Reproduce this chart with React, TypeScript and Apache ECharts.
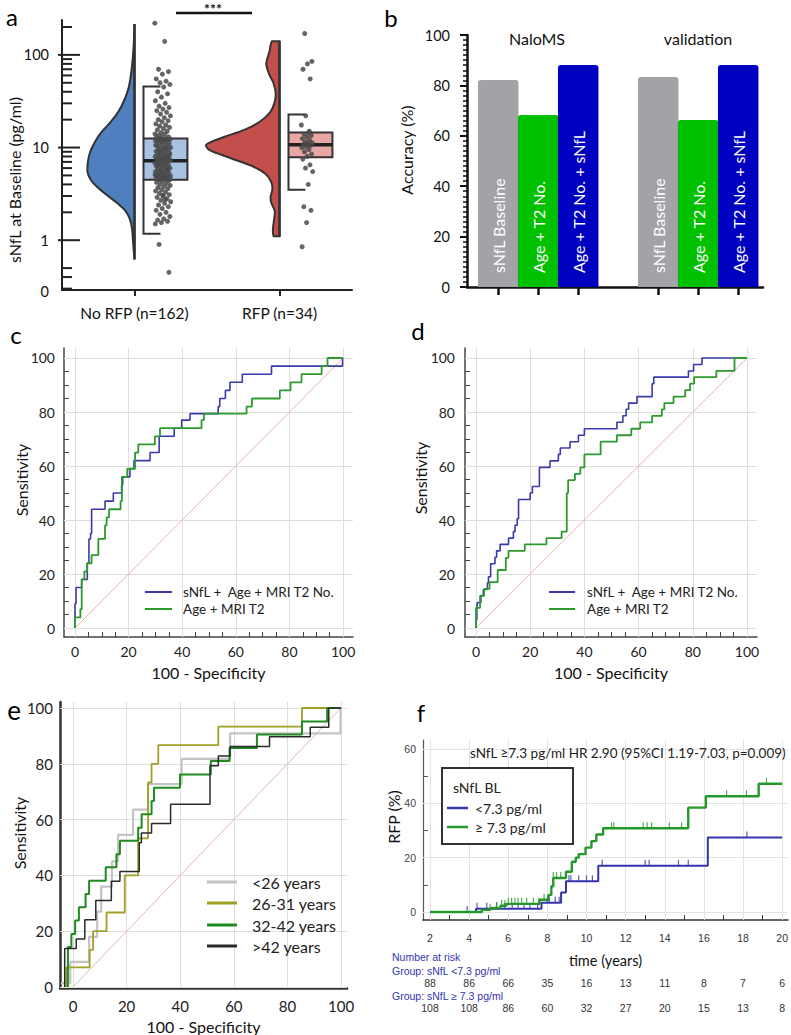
import React, { useEffect, useRef } from 'react';
import * as echarts from 'echarts';

const FONT = 'Lato, "Open Sans", sans-serif';
const ARIAL = '"Liberation Sans", Arial, sans-serif';
const NARROW = '"Liberation Sans Narrow", "Liberation Sans", Arial, sans-serif';

// ---------------- Panel a data ----------------
const groupsA = ['No RFP (n=162)', 'RFP (n=34)'];
const sNfLNoRfp = [
  220, 140, 70, 66, 62, 55, 52, 50, 48, 45, 40, 38, 35, 32, 30, 28, 27, 26, 25, 24,
  23, 22, 21, 20, 19.5, 19, 18, 17.5, 17, 16.5, 16, 15.5, 15, 14.5, 14, 14, 13.5, 13, 13, 12.8,
  12.5, 12.5, 12.3, 12.2, 12.1, 12.0,
  12, 11.8, 11.5, 11.2, 11, 10.8, 10.5, 10.3, 10, 10, 9.8, 9.6, 9.5, 9.3, 9.1, 9, 8.8, 8.7, 8.5, 8.4,
  8.2, 8.1, 8, 7.9, 7.8, 7.7, 7.6, 7.5, 7.45, 7.4, 7.35, 7.3, 7.25, 7.2, 11.6, 10.6, 9.9, 8.9, 8.3, 7.7,
  7.1, 7.0, 6.9, 6.8, 6.7, 6.6, 6.5, 6.4, 6.3, 6.2, 6.1, 6.0, 5.9, 5.8, 5.7, 5.6, 5.5, 5.45, 5.4, 5.3,
  5.2, 5.1, 5.0, 4.95, 4.9, 4.85, 4.8, 4.75, 4.7, 4.65, 4.6, 4.55, 4.5, 6.95, 6.45, 5.95, 5.35, 5.05, 4.6, 4.52,
  4.4, 4.3, 4.2, 4.1, 4.0, 3.9, 3.8, 3.7, 3.6, 3.5, 3.4, 3.3, 3.2, 3.1, 3.0, 2.9, 2.8, 2.7, 2.6, 2.5,
  2.4, 2.3, 2.2, 2.1, 2.0, 1.9, 1.8, 1.7, 1.65, 1.6, 1.55, 1.5, 2.75, 0.9, 0.45, 3.05,
];
const sNfLRfp = [
  170, 85, 80, 70, 55, 22, 17.5, 14.5, 14, 13.5, 13, 12.5, 12, 11.5, 11.2, 11, 10.8, 10.5, 10.2, 10,
  9.5, 9, 8.5, 8, 7.5, 6.5, 6, 5.5, 4, 2.3, 2.1, 1.55, 0.85, 15,
];
// [lower whisker, Q1, median, Q3, upper whisker]
const boxStatsA = [
  [1.17, 4.5, 7.2, 12.5, 45.7],
  [3.5, 7.85, 10.7, 14.5, 22.7],
];
// [value, relative density]
const violinNoRfp = [
  [215, 0], [120, 0.02], [70, 0.06], [45, 0.12], [33, 0.21], [25, 0.33], [19, 0.5], [14.5, 0.71],
  [11.5, 0.84], [9, 0.94], [7, 0.99], [5.5, 1], [4.5, 0.93], [3.7, 0.78], [3.0, 0.56], [2.5, 0.36],
  [2.1, 0.2], [1.7, 0.1], [1.3, 0.05], [0.95, 0.03], [0.62, 0],
];
const violinRfp = [
  [140, 0.16], [110, 0.21], [80, 0.28], [62, 0.22], [50, 0.13], [38, 0.08], [30, 0.11], [24, 0.2],
  [19, 0.42], [15.5, 0.75], [13, 1.18], [11.5, 1.45], [10.6, 1.56], [9.5, 1.5], [8.4, 1.25], [7.2, 0.88],
  [6.2, 0.55], [5.2, 0.3], [4.3, 0.18], [3.6, 0.15], [2.9, 0.19], [2.5, 0.17], [2.05, 0.1], [1.6, 0.12],
  [1.3, 0.14], [1.1, 0.12],
];
const yMajorTicksA = [1, 10, 100];
const yMinorTicksA = [0.3, 0.4, 0.5, 2, 3, 4, 5, 6, 7, 8, 9, 20, 30, 40, 50, 60, 70, 80, 90, 200];
const yLabelValuesA = [0.3, 1, 10, 100];
const yLabelTextsA = ['0', '1', '10', '100'];

// ---------------- Panel b data ----------------
const groupsB = ['NaloMS', 'validation'];
const modelsB = ['sNfL Baseline', 'Age + T2 No.', 'Age + T2 No. + sNfL'];
const accuracyNaloMS = [82.1, 68.3, 88.1];
const accuracyValidation = [83.3, 66.3, 88.1];
const modelColorsB = ['#a2a2a7', '#00c000', '#0000c0'];

// ---------------- ROC data (c, d) ----------------
const rocTickValues = [0, 5, 10, 15, 20, 25, 30, 35, 40, 45, 50, 55, 60, 65, 70, 75, 80, 85, 90, 95, 100];
const rocLabelValues = [0, 20, 40, 60, 80, 100];
const rocNames = ['sNfL +  Age + MRI T2 No.', 'Age + MRI T2'];
const diagonal = [[0, 0], [100, 100]];
const rocCsNfL = [[0,0],[0,9],[0.4,9],[0.4,15],[2.5,15],[2.5,18],[4.6,18],[4.6,24],[5.2,24],[5.2,33],[5.8,33],[5.8,35],[6.2,35],[6.2,44],[11.2,44],[11.2,47],[14.3,47],[14.3,50],[17.4,50],[17.4,53],[17.8,53],[17.8,56],[20.5,56],[20.5,59],[22,59],[22,62],[28,62],[28,65],[31.4,65],[31.4,71],[37,71],[37,74],[39.8,74],[39.8,77],[42.9,77],[42.9,79.4],[53.4,79.4],[53.4,82],[54,82],[54,85],[56.1,85],[56.1,88],[57.8,88],[57.8,91],[62.4,91],[62.4,94],[73.3,94],[73.3,97],[99.8,97],[99.8,100],[100,100]];
const rocCAgeT2 = [[0,0],[0,4],[2,4],[2,7],[2.5,7],[2.5,18],[3.5,18],[3.5,21],[4.5,21],[4.5,24],[6.2,24],[6.2,27],[8.7,27],[8.7,33],[11.2,33],[11.2,38],[11.8,38],[11.8,41],[12.7,41],[12.7,44],[17,44],[17,47],[17.5,47],[17.5,56],[19.5,56],[19.5,59],[22.4,59],[22.4,65],[23.6,65],[23.6,68],[29.8,68],[29.8,71],[31.7,71],[31.7,74],[47.2,74],[47.2,77],[48.1,77],[48.1,79.4],[64,79.4],[64,82],[66,82],[66,85],[76.4,85],[76.4,88],[80.4,88],[80.4,91],[84.5,91],[84.5,94],[92,94],[92,97],[94.2,97],[94.2,100],[100,100]];
const rocDsNfL = [[0,0],[0,3],[0.3,3],[0.3,7.1],[0.5,7.1],[0.5,9.5],[1.8,9.5],[1.8,11.9],[2.7,11.9],[2.7,14.3],[4.2,14.3],[4.2,16.7],[4.6,16.7],[4.6,19],[5.4,19],[5.4,23.8],[7,23.8],[7,26.2],[7.6,26.2],[7.6,28.6],[8.9,28.6],[8.9,31],[12,31],[12,33.3],[13.8,33.3],[13.8,35.7],[14.4,35.7],[14.4,38.1],[15.2,38.1],[15.2,40.5],[15.7,40.5],[15.7,47.6],[20,47.6],[20,50],[20.8,50],[20.8,52.4],[23.4,52.4],[23.4,59.5],[27.3,59.5],[27.3,61.9],[30.4,61.9],[30.4,64.3],[31.1,64.3],[31.1,66.7],[34.7,66.7],[34.7,69],[37.8,69],[37.8,71.4],[40,71.4],[40,73.8],[52,73.8],[52,76.2],[54.2,76.2],[54.2,78.6],[55.4,78.6],[55.4,81],[56.3,81],[56.3,83.3],[59.4,83.3],[59.4,85.7],[65,85.7],[65,90.5],[65.6,90.5],[65.6,92.9],[78.4,92.9],[78.4,95.2],[80.3,95.2],[80.3,97.6],[83.4,97.6],[83.4,100],[100,100]];
const rocDAgeT2 = [[0,0],[0,7.5],[1.5,7.5],[1.5,12],[3,12],[3,14.5],[5,14.5],[5,17],[8,17],[8,21.5],[11,21.5],[11,26],[12,26],[12,28.6],[18,28.6],[18,31],[26,31],[26,33.3],[31.6,33.3],[31.6,35.7],[33.5,35.7],[33.5,50],[34,50],[34,54.8],[36.5,54.8],[36.5,57.1],[38.5,57.1],[38.5,59.5],[40,59.5],[40,64.3],[46,64.3],[46,69],[52,69],[52,71.4],[57.3,71.4],[57.3,73.8],[60.6,73.8],[60.6,76.2],[65,76.2],[65,78.6],[68.6,78.6],[68.6,81],[69.5,81],[69.5,83.3],[72.9,83.3],[72.9,85.7],[77.2,85.7],[77.2,88.1],[79,88.1],[79,90.5],[80.5,90.5],[80.5,92.9],[88.7,92.9],[88.7,95.2],[95.4,95.2],[95.4,100],[100,100]];

// ---------------- ROC by age (e) ----------------
const ageGroups = ['<26 years', '26-31 years', '32-42 years', '>42 years'];
const ageColors = ['#c4c4c4', '#a0a026', '#1f8a1f', '#2b2b2b'];
const rocAgeLt26 = [[-4.5,1.4],[-1,1.4],[-1,9],[6,9],[6,18],[9,18],[9,27],[10.5,27],[10.5,36],[14.5,36],[14.5,45],[16.8,45],[16.8,54.5],[22.4,54.5],[22.4,63.6],[28,63.6],[28,72.7],[40.5,72.7],[40.5,81.8],[58.6,81.8],[58.6,90.9],[99.8,90.9],[99.8,100],[100,100]];
const rocAge26to31 = [[-2.5,0],[-2.5,7],[6.2,7],[6.2,13.3],[7.5,13.3],[7.5,20],[12.5,20],[12.5,26.7],[19.3,26.7],[19.3,40],[24.3,40],[24.3,53.3],[28,53.3],[28,73.3],[29.3,73.3],[29.3,80],[31.8,80],[31.8,86.7],[54.2,86.7],[54.2,93.3],[85.4,93.3],[85.4,100],[100,100]];
const rocAge32to42 = [[-1.9,0],[-1.9,14.3],[-0.6,14.3],[-0.6,19],[0.8,19],[0.8,23.8],[2.2,23.8],[2.2,28.6],[4.7,28.6],[4.7,33.3],[6,33.3],[6,38.1],[12.2,38.1],[12.2,42.9],[16.2,42.9],[16.2,47.6],[17.5,47.6],[17.5,52.4],[24.3,52.4],[24.3,57.1],[25.6,57.1],[25.6,61.9],[29.3,61.9],[29.3,66.7],[30.2,66.7],[30.2,71.4],[39.9,71.4],[39.9,76.2],[51.4,76.2],[51.4,81],[58.4,81],[58.4,85.7],[68.6,85.7],[68.6,90.5],[85.4,90.5],[85.4,95.2],[94.8,95.2],[94.8,100],[100,100]];
const rocAgeGt42 = [[-3.1,0],[-3.1,13.8],[1.2,13.8],[1.2,17.2],[4.4,17.2],[4.4,24.1],[8.5,24.1],[8.5,31],[14.3,31],[14.3,37.9],[17.5,37.9],[17.5,41.4],[24.7,41.4],[24.7,51.7],[25.5,51.7],[25.5,55.2],[29.3,55.2],[29.3,58.6],[36.4,58.6],[36.4,65.5],[51.1,65.5],[51.1,79.3],[54.2,79.3],[54.2,82.8],[58.6,82.8],[58.6,86.2],[73.3,86.2],[73.3,89.7],[88.5,89.7],[88.5,93.1],[95.4,93.1],[95.4,100],[100,100]];

// ---------------- Kaplan-Meier (f) ----------------
const kmNames = ['<7.3 pg/ml', '\u2265 7.3 pg/ml'];
const kmLow = [[2,0],[4.35,0],[4.35,1.2],[7.7,1.2],[7.7,3.4],[8.7,3.4],[8.7,7.2],[8.95,7.2],[8.95,11.3],[10.6,11.3],[10.6,17],[16.2,17],[16.2,27.4],[20,27.4]];
const kmHigh = [[2,0],[4.65,0],[4.65,0.8],[5.1,0.8],[5.1,1.5],[5.6,1.5],[5.6,2.3],[5.9,2.3],[5.9,3.0],[7.6,3.0],[7.6,4.5],[8.05,4.5],[8.05,6.3],[8.2,6.3],[8.2,9.5],[8.3,9.5],[8.3,12.5],[8.95,12.5],[8.95,14.8],[9.25,14.8],[9.25,18.5],[9.45,18.5],[9.45,20.0],[9.6,20.0],[9.6,21.3],[9.95,21.3],[9.95,23.7],[10.25,23.7],[10.25,26.1],[10.5,26.1],[10.5,28.5],[10.85,28.5],[10.85,30.8],[15.2,30.8],[15.2,38.4],[16.1,38.4],[16.1,42.6],[18.8,42.6],[18.8,47.2],[20,47.2]];
const censorLow = [3.9, 4.4, 4.9, 5.4, 5.8, 6.2, 6.5, 6.8, 7.1, 7.5, 8.0, 8.1, 8.4, 8.6, 9.1, 9.2, 9.6, 10.0, 10.3, 10.8, 13.0, 13.2, 14.7, 15.2, 18.2];
const censorHigh = [5.07, 5.4, 5.66, 5.83, 6.0, 6.17, 6.34, 6.5, 6.68, 6.94, 7.28, 7.57, 7.83, 8.3, 8.47, 8.68, 11.28, 11.4, 12.9, 13.1, 13.33, 14.23, 14.86, 17.16, 18.18, 19.2];
const kmTickValues = [2, 3, 4, 5, 6, 7, 8, 9, 10, 11, 12, 13, 14, 15, 16, 17, 18, 19, 20];
const kmLabelValues = [2, 4, 6, 8, 10, 12, 14, 16, 18, 20];
const kmYTickValues = [0, 10, 20, 30, 40, 50, 60];
const kmYLabelValues = [0, 20, 40, 60];
const riskTimes = [2, 4, 6, 8, 10, 12, 14, 16, 18, 20];
const riskLow = [88, 86, 66, 35, 16, 13, 11, 8, 7, 6];
const riskHigh = [108, 108, 86, 60, 32, 27, 20, 15, 13, 8];
const hrText = 'sNfL \u22657.3 pg/ml HR 2.90 (95%CI 1.19-7.03, p=0.009)';

const ROC_BLUE = '#3a3aac';
const ROC_GREEN = '#2e9a2e';
const KM_BLUE = '#3535ad';
const KM_GREEN = '#23992a';

function stepAt(curve: number[][], t: number) {
  let y = curve[0][1];
  for (const p of curve) if (p[0] <= t) y = p[1];
  return y;
}

function gridLines(xs: number[], ys: number[], color: string) {
  return {
    z: 1,
    silent: true,
    symbol: ['none', 'none'],
    label: { show: false },
    lineStyle: { color, width: 1, type: 'solid' },
    emphasis: { disabled: true },
    data: xs.map((v) => ({ xAxis: v })).concat(ys.map((v) => ({ yAxis: v })) as any),
  };
}

function valueAxis(gridIndex: number, min: number, max: number, o: any) {
  return {
    type: 'value', gridIndex, min, max,
    axisLine: { show: o.line !== false, onZero: false, lineStyle: { color: o.lineColor || '#444', width: o.lineWidth || 1.5 } },
    axisTick: o.ticks
      ? { show: true, inside: true, length: o.tickLen || 5, customValues: o.ticks, lineStyle: { color: o.lineColor || '#444', width: 1 } }
      : { show: false },
    axisLabel: {
      show: true, customValues: o.labels, margin: o.margin, fontSize: o.fontSize || 14,
      fontFamily: o.fontFamily || FONT, color: o.labelColor || '#222',
    },
    splitLine: { show: false },
    name: o.name, nameLocation: 'middle', nameGap: o.nameGap, nameMoveOverlap: false,
    nameTextStyle: { fontSize: o.nameSize || 16, fontFamily: o.nameFont || FONT, color: '#111' },
  };
}

function legendEls(x0: number, x1: number, xt: number, ys: number[], names: string[], colors: string[], widths: number[], size: number) {
  const els: any[] = [];
  names.forEach((n, i) => {
    els.push({ type: 'line', z: 100, shape: { x1: x0, y1: ys[i], x2: x1, y2: ys[i] }, style: { stroke: colors[i], lineWidth: widths[i] } });
    els.push({ type: 'text', z: 100, x: xt, y: ys[i], style: { text: n, font: `${size}px ${FONT}`, fill: '#222', textAlign: 'left', textVerticalAlign: 'middle', align: 'left', verticalAlign: 'middle' } });
  });
  return els;
}

function textEl(text: string, x: number, y: number, font: string, fill = '#111', align = 'center', rotation = 0) {
  return { type: 'text', z: 100, x, y, rotation, style: { text, font, fill, textAlign: align, textVerticalAlign: 'middle', align, verticalAlign: 'middle' } };
}

function buildOption() {
  const violins = [violinNoRfp, violinRfp];
  const violinColors = ['#4f7fbf', '#c44e4c'];
  const boxColors = ['#a9c2e2', '#e8a6a4'];
  const VIOLIN_W = 0.325; // band fraction for density 1
  const jitter = [[0.14, 0.11], [0.15, 0.08]];

  const pointsData: number[][] = [];
  sNfLNoRfp.forEach((v, i) => pointsData.push([0, v, (i * 0.6180339887) % 1]));
  sNfLRfp.forEach((v, i) => pointsData.push([1, v, (i * 0.6180339887 + 0.3) % 1]));

  const barData: any[] = [];
  [accuracyNaloMS, accuracyValidation].forEach((vals, g) => {
    vals.forEach((v, m) => {
      barData.push({ name: modelsB[m], value: [1 + g * 4 + m, v], itemStyle: { color: modelColorsB[m] } });
    });
  });
  const barPositions = barData.map((d) => d.value[0]);

  const rocLine = (xi: number, data: number[][], color: string, width: number, z = 4) => ({
    type: 'line', xAxisIndex: xi, yAxisIndex: xi, data, symbol: 'none', showSymbol: false, z,
    lineStyle: { color, width }, silent: true,
  });
  const diagSeries = (xi: number) => ({
    type: 'line', xAxisIndex: xi, yAxisIndex: xi, data: diagonal, symbol: 'none', z: 2, silent: true,
    lineStyle: { color: '#e6b3b3', width: 1 },
    markLine: gridLines(rocLabelValues, rocLabelValues, '#dedede'),
  });

  const rocAxisOpts = {
    ticks: rocTickValues, labels: rocLabelValues, lineColor: '#444', lineWidth: 1.5, fontSize: 14,
  };

  const option: any = {
    animation: false,
    backgroundColor: '#ffffff',
    textStyle: { fontFamily: FONT },
    grid: [
      { left: 62, top: 20, width: 290, height: 270, containLabel: false, outerBoundsMode: 'none' },
      { left: 467, top: 35, width: 296, height: 252, containLabel: false, outerBoundsMode: 'none' },
      { left: 64, top: 348, width: 289, height: 289, containLabel: false, outerBoundsMode: 'none' },
      { left: 465, top: 348, width: 292, height: 289, containLabel: false, outerBoundsMode: 'none' },
      { left: 60, top: 702, width: 287, height: 286, containLabel: false, outerBoundsMode: 'none' },
      { left: 423, top: 740, width: 365, height: 180, containLabel: false, outerBoundsMode: 'none' },
    ],
    xAxis: [
      {
        type: 'category', gridIndex: 0, data: groupsA,
        axisLine: { lineStyle: { color: '#222', width: 2 } },
        axisTick: { show: true, alignWithLabel: true, length: 6, lineStyle: { color: '#222', width: 2 } },
        axisLabel: { fontSize: 15.5, fontFamily: FONT, color: '#111', margin: 15 },
        splitLine: { show: false },
      },
      {
        type: 'value', gridIndex: 1, min: 0.22, max: 7.62,
        axisLine: { lineStyle: { color: '#111', width: 2.5 } },
        axisTick: { show: true, customValues: barPositions, length: 8, lineStyle: { color: '#111', width: 2.5 } },
        axisLabel: { show: false },
        splitLine: { show: false },
      },
      valueAxis(2, -4.1, 103.7, { ...rocAxisOpts, margin: 7, name: '100 - Specificity', nameGap: 27 }),
      valueAxis(3, -4.06, 103.7, { ...rocAxisOpts, margin: 7, name: '100 - Specificity', nameGap: 27 }),
      valueAxis(4, -4.85, 102.2, { labels: rocLabelValues, lineColor: '#333', lineWidth: 2.5, fontSize: 15, margin: 10, name: '100 - Specificity', nameGap: 30 }),
      valueAxis(5, 1.64, 20.3, {
        ticks: kmTickValues, tickLen: 5, labels: kmLabelValues, lineColor: '#333', lineWidth: 1.5,
        fontSize: 10.5, fontFamily: ARIAL, labelColor: '#333', margin: 12,
        name: 'time (years)', nameGap: 33, nameSize: 14.5,
      }),
    ],
    yAxis: [
      {
        type: 'log', logBase: 10, gridIndex: 0, min: 0.29, max: 238,
        axisLine: { show: true, lineStyle: { color: '#222', width: 2 } },
        axisTick: { show: false }, axisLabel: { show: false }, splitLine: { show: false }, minorSplitLine: { show: false },
      },
      {
        type: 'value', gridIndex: 1, min: 0, max: 100, interval: 20,
        axisLine: { show: true, lineStyle: { color: '#111', width: 2.5 } },
        axisTick: { show: true, length: 7, lineStyle: { color: '#111', width: 2 } },
        minorTick: { show: true, splitNumber: 10, length: 4, lineStyle: { color: '#111', width: 1.5 } },
        axisLabel: { fontSize: 14.5, fontFamily: FONT, color: '#111', margin: 17 },
        splitLine: { show: false },
      },
      valueAxis(2, -3.3, 103.7, { ...rocAxisOpts, margin: 9 }),
      valueAxis(3, -3.3, 103.7, { ...rocAxisOpts, margin: 10 }),
      valueAxis(4, -0.36, 102.15, { labels: rocLabelValues, lineColor: '#333', lineWidth: 2.5, fontSize: 15, margin: 7 }),
      valueAxis(5, -2.94, 63.3, {
        ticks: kmYTickValues, tickLen: 5, labels: kmYLabelValues, lineColor: '#555', lineWidth: 1.2,
        fontSize: 10.5, fontFamily: ARIAL, labelColor: '#444', margin: 7,
      }),
    ],
    series: [
      // ---- panel a: half violins
      {
        type: 'custom', xAxisIndex: 0, yAxisIndex: 0, clip: false, silent: true, z: 2,
        data: groupsA.map((_, g) => [g, boxStatsA[g][2]]),
        renderItem: (params: any, api: any) => {
          const g = params.dataIndex;
          const bw = api.size([1, 0])[0];
          const cx = api.coord([g, 1])[0];
          const pts = violins[g].map(([v, d]) => [cx - d * VIOLIN_W * bw, api.coord([g, v])[1]]);
          const top = pts[0][1];
          const bottom = pts[pts.length - 1][1];
          const poly = [[cx, top], ...pts, [cx, bottom]];
          return {
            type: 'group',
            children: [
              {
                type: 'polygon',
                shape: { points: poly, smooth: 0.3, smoothConstraint: [[1e9, 1e9], [-1e9, -1e9]] },
                style: { fill: violinColors[g], stroke: '#333', lineWidth: 2 },
              },
              { type: 'line', shape: { x1: cx, y1: top, x2: cx, y2: bottom }, style: { stroke: '#333', lineWidth: 2.5 } },
            ],
          };
        },
      },
      // ---- panel a: boxes
      {
        type: 'custom', xAxisIndex: 0, yAxisIndex: 0, clip: false, silent: true, z: 3,
        data: groupsA.map((_, g) => [g, boxStatsA[g][2]]),
        renderItem: (params: any, api: any) => {
          const g = params.dataIndex;
          const [lo, q1, med, q3, hi] = boxStatsA[g];
          const bw = api.size([1, 0])[0];
          const cx = api.coord([g, med])[0];
          const l = cx + 0.062 * bw;
          const r = cx + 0.365 * bw;
          const cap = 0.117 * bw;
          const yq1 = api.coord([g, q1])[1];
          const yq3 = api.coord([g, q3])[1];
          const ym = api.coord([g, med])[1];
          const ylo = api.coord([g, lo])[1];
          const yhi = api.coord([g, hi])[1];
          const st = { stroke: '#333', lineWidth: 2, fill: null };
          return {
            type: 'group',
            children: [
              { type: 'polyline', shape: { points: [[l + cap, yhi], [l, yhi], [l, yq3]] }, style: st },
              { type: 'polyline', shape: { points: [[l + cap, ylo], [l, ylo], [l, yq1]] }, style: st },
              { type: 'rect', shape: { x: l, y: yq3, width: r - l, height: yq1 - yq3 }, style: { fill: boxColors[g], stroke: '#333', lineWidth: 2 } },
              { type: 'line', shape: { x1: l, y1: ym, x2: r, y2: ym }, style: { stroke: '#222', lineWidth: 3.5 } },
            ],
          };
        },
      },
      // ---- panel a: jittered points
      {
        type: 'custom', xAxisIndex: 0, yAxisIndex: 0, clip: false, silent: true, z: 4,
        data: pointsData,
        renderItem: (params: any, api: any) => {
          const g = api.value(0);
          const v = api.value(1);
          const f = api.value(2);
          const bw = api.size([1, 0])[0];
          const p = api.coord([g, v]);
          return {
            type: 'circle',
            shape: { cx: p[0] + (jitter[g][0] + jitter[g][1] * f) * bw, cy: p[1], r: 2.5 },
            style: { fill: '#4a4a4a', opacity: 0.85 },
          };
        },
      },
      // ---- panel a: y ticks
      {
        type: 'custom', xAxisIndex: 0, yAxisIndex: 0, clip: false, silent: true, z: 5,
        data: yMajorTicksA.map((v) => [0, v, 1]).concat(yMinorTicksA.map((v) => [0, v, 0])),
        renderItem: (params: any, api: any) => {
          const v = api.value(1);
          const major = api.value(2);
          const bw = api.size([1, 0])[0];
          const p = api.coord([0, v]);
          const x0 = p[0] - bw / 2;
          return { type: 'line', shape: { x1: x0 - (major ? 4 : 0), y1: p[1], x2: x0 + (major ? 18 : 10), y2: p[1] }, style: { stroke: '#222', lineWidth: 2 } };
        },
      },
      // ---- panel a: y labels
      {
        type: 'custom', xAxisIndex: 0, yAxisIndex: 0, clip: false, silent: true, z: 5,
        data: yLabelValuesA.map((v, i) => [0, v, i]),
        renderItem: (params: any, api: any) => {
          const v = api.value(1);
          const i = api.value(2);
          const bw = api.size([1, 0])[0];
          const p = api.coord([0, v]);
          return {
            type: 'text', x: p[0] - bw / 2 - 13, y: p[1] + (i === 0 ? 3 : 0),
            style: { text: yLabelTextsA[i], font: `14.5px ${FONT}`, fill: '#111', textAlign: 'right', textVerticalAlign: 'middle', align: 'right', verticalAlign: 'middle' },
          };
        },
      },
      // ---- panel b: bars
      {
        type: 'bar', xAxisIndex: 1, yAxisIndex: 1, barWidth: 40.5, data: barData, silent: true,
        itemStyle: { borderRadius: [3, 3, 0, 0] },
        label: {
          show: true, position: 'insideBottom', rotate: 90, align: 'left', verticalAlign: 'middle', distance: 14,
          color: '#fff', fontSize: 16, fontFamily: FONT, formatter: '{b}',
        },
      },
      // ---- panel c
      diagSeries(2),
      rocLine(2, rocCsNfL, ROC_BLUE, 1.6, 4),
      rocLine(2, rocCAgeT2, ROC_GREEN, 1.8, 5),
      // ---- panel d
      diagSeries(3),
      rocLine(3, rocDsNfL, ROC_BLUE, 1.6, 4),
      rocLine(3, rocDAgeT2, ROC_GREEN, 1.8, 5),
      // ---- panel e
      diagSeries(4),
      rocLine(4, rocAgeLt26, ageColors[0], 2.2, 4),
      rocLine(4, rocAge26to31, ageColors[1], 1.8, 5),
      rocLine(4, rocAge32to42, ageColors[2], 2, 6),
      rocLine(4, rocAgeGt42, ageColors[3], 1.5, 7),
      // ---- panel f
      {
        type: 'line', xAxisIndex: 5, yAxisIndex: 5, data: kmLow, symbol: 'none', z: 4, silent: true,
        lineStyle: { color: KM_BLUE, width: 2 },
        markLine: gridLines(kmLabelValues, kmYLabelValues, '#e3e3e3'),
      },
      {
        type: 'line', xAxisIndex: 5, yAxisIndex: 5, data: kmHigh, symbol: 'none', z: 5, silent: true,
        lineStyle: { color: KM_GREEN, width: 2.4 },
      },
      {
        type: 'scatter', xAxisIndex: 5, yAxisIndex: 5, silent: true, z: 4,
        data: censorLow.map((t) => [t, stepAt(kmLow, t)]),
        symbol: 'rect', symbolSize: [1.2, 6], symbolOffset: [0, -3], itemStyle: { color: KM_BLUE },
      },
      {
        type: 'scatter', xAxisIndex: 5, yAxisIndex: 5, silent: true, z: 5,
        data: censorHigh.map((t) => [t, stepAt(kmHigh, t)]),
        symbol: 'rect', symbolSize: [1.2, 6], symbolOffset: [0, -3], itemStyle: { color: KM_GREEN },
      },
      {
        type: 'custom', xAxisIndex: 5, yAxisIndex: 5, clip: false, silent: true, z: 5,
        data: riskTimes.map((t, i) => [t, 0, i]),
        renderItem: (params: any, api: any) => {
          const i = api.value(2);
          const p = api.coord([api.value(0), 0]);
          const st = (text: string) => ({ text, font: `10.5px ${NARROW}`, fill: '#333', textAlign: 'center', textVerticalAlign: 'middle', align: 'center', verticalAlign: 'middle' });
          return {
            type: 'group',
            children: [
              { type: 'text', x: p[0], y: p[1] + 71, style: st(String(riskLow[i])) },
              { type: 'text', x: p[0], y: p[1] + 96, style: st(String(riskHigh[i])) },
            ],
          };
        },
      },
    ],
    graphic: [
      textEl('a', 12, 16, `24px ${FONT}`, '#000'),
      textEl('b', 391, 17, `24px ${FONT}`, '#000'),
      textEl('c', 16, 334, `24px ${FONT}`, '#000'),
      textEl('d', 418, 330, `24px ${FONT}`, '#000'),
      textEl('e', 14, 710, `26px ${FONT}`, '#000'),
      textEl('f', 421, 712, `24px ${FONT}`, '#000'),
      // axis titles (rotated)
      textEl('sNfL at Baseline (pg/ml)', 14, 180, `16px ${FONT}`, '#111', 'center', Math.PI / 2),
      textEl('Accuracy (%)', 406, 150, `16px ${FONT}`, '#111', 'center', Math.PI / 2),
      textEl('Sensitivity', 21, 480, `16px ${FONT}`, '#111', 'center', Math.PI / 2),
      textEl('Sensitivity', 420, 478, `16px ${FONT}`, '#111', 'center', Math.PI / 2),
      textEl('Sensitivity', 19, 833, `16px ${FONT}`, '#111', 'center', Math.PI / 2),
      textEl('RFP (%)', 393, 817, `16px ${FONT}`, '#111', 'center', Math.PI / 2),
      // significance
      { type: 'line', z: 100, shape: { x1: 176, y1: 13, x2: 252, y2: 13 }, style: { stroke: '#111', lineWidth: 2.5 } },
      textEl('***', 213, 8, `bold 14px ${FONT}`, '#111'),
      textEl(groupsB[0], 537, 38, `16px ${FONT}`, '#111'),
      textEl(groupsB[1], 698, 38, `16px ${FONT}`, '#111'),
      ...legendEls(145, 172, 183, [592, 609], rocNames, [ROC_BLUE, ROC_GREEN], [2, 2], 13.5),
      ...legendEls(549, 575, 587, [592, 609], rocNames, [ROC_BLUE, ROC_GREEN], [2, 2], 13.5),
      ...legendEls(207, 237, 252, [882, 903, 925, 946], ageGroups, ageColors, [3, 3, 3, 3], 16),
      { type: 'rect', z: 99, shape: { x: 442, y: 768, width: 131, height: 76 }, style: { fill: '#fff', stroke: '#333', lineWidth: 2 } },
      textEl('sNfL BL', 453, 787, `14px ${FONT}`, '#222', 'left'),
      ...legendEls(447, 468, 475, [808, 827], kmNames, [KM_BLUE, KM_GREEN], [2.5, 2.5], 14),
      textEl(hrText, 470, 753, `13.5px ${FONT}`, '#222', 'left'),
      textEl('Number at risk', 392, 957, `10.5px ${NARROW}`, '#3434b0', 'left'),
      textEl('Group: sNfL <7.3 pg/ml', 392, 971, `10.5px ${NARROW}`, '#3434b0', 'left'),
      textEl('Group: sNfL \u2265 7.3 pg/ml', 392, 996, `10.5px ${NARROW}`, '#3434b0', 'left'),
    ],
  };
  return option;
}

export default function App() {
  const ref = useRef<HTMLDivElement>(null);
  useEffect(() => {
    const chart = echarts.init(ref.current as HTMLDivElement, undefined, { renderer: 'svg' });
    chart.setOption(buildOption());
    return () => chart.dispose();
  }, []);
  return (
    <div
      ref={ref}
      style={{ position: 'absolute', left: 0, top: 0, width: 791, height: 1035, background: '#fff' }}
    />
  );
}
